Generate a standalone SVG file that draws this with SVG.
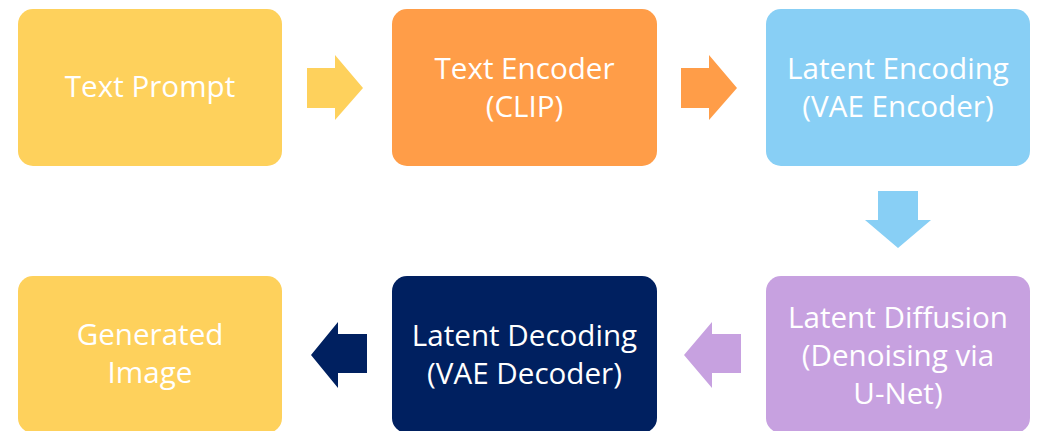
<svg xmlns="http://www.w3.org/2000/svg" width="1038" height="431" viewBox="0 0 1038 431">
  <style>
    .box { stroke: none; }
    .label { font-family: "Open Sans", "Liberation Sans", sans-serif; font-size: 29.6px; fill: #ffffff; text-anchor: middle; }
    .yellow { fill: #FED15C; }
    .orange { fill: #FF9D48; }
    .blue { fill: #88CFF5; }
    .purple { fill: #C7A1E0; }
    .navy { fill: #002060; }
  </style>
  <rect width="1038" height="431" fill="#ffffff"/>

  <g id="text-prompt">
    <rect class="box yellow" x="18" y="9" width="264" height="157" rx="15"/>
    <text class="label" x="150" y="97">Text Prompt</text>
  </g>

  <g id="text-encoder">
    <rect class="box orange" x="392" y="9" width="265" height="157" rx="15"/>
    <text class="label" x="524.5" y="79">Text Encoder</text>
    <text class="label" x="524.5" y="117">(CLIP)</text>
  </g>

  <g id="latent-encoding">
    <rect class="box blue" x="766" y="9" width="264" height="157" rx="15"/>
    <text class="label" x="898" y="79">Latent Encoding</text>
    <text class="label" x="898" y="117">(VAE Encoder)</text>
  </g>

  <g id="latent-diffusion">
    <rect class="box purple" x="766" y="276" width="264" height="157" rx="15"/>
    <text class="label" x="898" y="328">Latent Diffusion</text>
    <text class="label" x="898" y="366">(Denoising via</text>
    <text class="label" x="898" y="404">U-Net)</text>
  </g>

  <g id="latent-decoding">
    <rect class="box navy" x="392" y="276" width="265" height="157" rx="15"/>
    <text class="label" x="524.5" y="346">Latent Decoding</text>
    <text class="label" x="524.5" y="384">(VAE Decoder)</text>
  </g>

  <g id="generated-image">
    <rect class="box yellow" x="18" y="276" width="264" height="157" rx="15"/>
    <text class="label" x="150" y="345">Generated</text>
    <text class="label" x="150" y="383">Image</text>
  </g>

  <g id="connectors">
    <!-- block arrows between stages -->
    <polygon class="yellow" points="307,68 335,68 335,55 363,88 335,120 335,108 307,108"/>
    <polygon class="orange" points="681,68 709,68 709,55 737,88 709,120 709,108 681,108"/>
    <polygon class="blue" points="878,191 918,191 918,220 931,220 898,248 865,220 878,220"/>
    <polygon class="purple" points="741,334 712,334 712,322 684,355 712,388 712,373 741,373"/>
    <polygon class="navy" points="367,334 338,334 338,322 311,355 338,388 338,373 367,373"/>
  </g>
</svg>
